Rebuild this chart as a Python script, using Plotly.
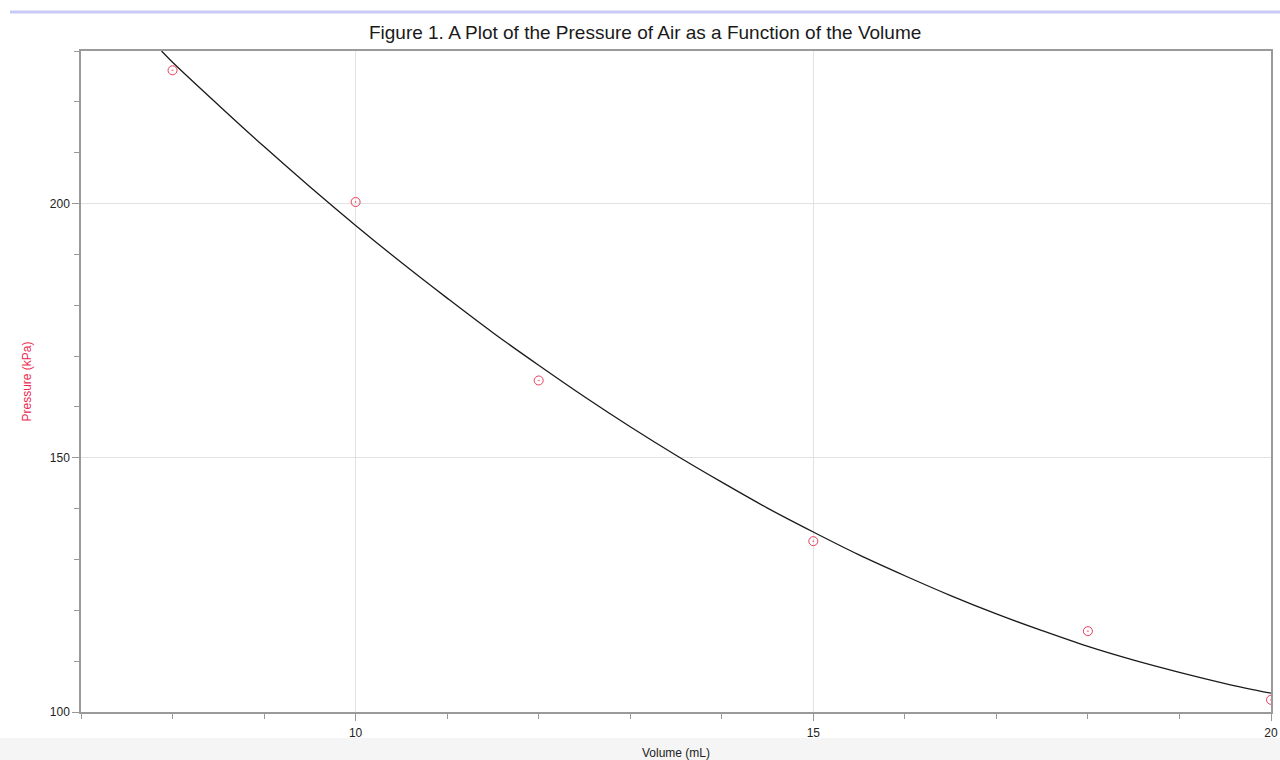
import plotly.graph_objects as go

# Measured data points (Volume mL, Pressure kPa)
volume = [8, 10, 12, 15, 18, 20]
pressure = [226.2, 200.3, 165.2, 133.6, 115.9, 102.4]

# Fitted curve
curve_x = [7.88, 8, 8.5, 9, 9.5, 10, 10.5, 11, 11.5, 12, 12.5, 13, 13.5, 14, 14.5,
           15, 15.5, 16, 16.5, 17, 17.5, 18, 18.5, 19, 19.5, 20]
curve_y = [230.0, 227.8, 219.4, 211.2, 203.3, 195.7, 188.4, 181.4, 174.6, 168.2, 162.0,
           156.1, 150.5, 145.2, 140.1, 135.4, 130.9, 126.8, 122.9, 119.3, 116.0, 112.9,
           110.2, 107.8, 105.6, 103.7]

title_text = "Figure 1. A Plot of the Pressure of Air as a Function of the Volume"
x_title = "Volume (mL)"
y_title = "Pressure (kPa)"
x_ticks = [10, 15, 20]
y_ticks = [100, 150, 200]

FONT = "Liberation Sans, Arial, Helvetica, sans-serif"

fig = go.Figure()
fig.add_trace(go.Scatter(
    x=curve_x, y=curve_y, mode="lines",
    line=dict(color="#1a1a1a", width=1.3, shape="spline"),
    showlegend=False, hoverinfo="skip"))
fig.add_trace(go.Scatter(
    x=volume, y=pressure, mode="markers",
    marker=dict(symbol="circle-dot", size=9, color="rgba(0,0,0,0)",
                line=dict(color="#ec3d5c", width=1)),
    showlegend=False, cliponaxis=True))

fig.update_layout(
    width=1280, height=760,
    margin=dict(l=81, r=9, t=51, b=48),
    paper_bgcolor="white", plot_bgcolor="white",
    font=dict(family=FONT, size=12, color="#222"),
    title=dict(text=title_text, x=0.504, xanchor="center", y=0.958, yanchor="middle",
               font=dict(family=FONT, size=19, color="#1a1a1a")),
    xaxis=dict(range=[7, 20], tickvals=x_ticks, ticks="outside", ticklen=7,
               tickcolor="#999", showline=True, linecolor="#9a9a9a", linewidth=1.5,
               mirror=True, showgrid=True, gridcolor="#e2e2e2", gridwidth=1,
               zeroline=False, tickfont=dict(size=12, color="#222"), automargin=False,
               ticklabelstandoff=2,
               minor=dict(dtick=1, ticks="outside", ticklen=5, tickcolor="#999", showgrid=False),
               title=dict(text=x_title, font=dict(size=12, color="#222"), standoff=10)),
    yaxis=dict(range=[100, 230], tickvals=y_ticks, ticks="outside", ticklen=7,
               tickcolor="#999", showline=True, linecolor="#9a9a9a", linewidth=1.5,
               mirror=True, showgrid=True, gridcolor="#e2e2e2", gridwidth=1,
               zeroline=False, tickfont=dict(size=12, color="#222"), automargin=False,
               minor=dict(dtick=10, ticks="outside", ticklen=5, tickcolor="#999", showgrid=False),
               title=dict(text=y_title, font=dict(size=12, color="#ec2a4f"), standoff=16)),
    shapes=[
        dict(type="rect", xref="paper", yref="paper", x0=-81/1190, x1=1 + 9/1190,
             y0=-48/661, y1=-26/661, fillcolor="#f5f5f5", line=dict(width=0), layer="below"),
        dict(type="line", xref="paper", yref="paper", x0=-71/1190, x1=1 + 9/1190,
             y0=1 + 39/661, y1=1 + 39/661, line=dict(color="#c9cbf6", width=3)),
    ],
)

fig.write_html("out.html", config={"displayModeBar": False},
               post_script="document.body.style.margin='0';")
